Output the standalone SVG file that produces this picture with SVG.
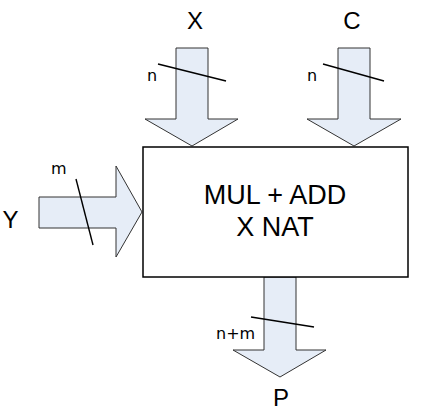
<svg xmlns="http://www.w3.org/2000/svg" width="422" height="414" viewBox="0 0 422 414">
<style>
.arrow{fill:#E6EDF7;stroke:#333;stroke-width:1}
.tick{stroke:#000;stroke-width:1.4;fill:none}
.big{font-family:"Liberation Sans",Arial,sans-serif;font-size:24px;fill:#000;text-anchor:middle}
.box{font-family:"Liberation Sans",Arial,sans-serif;font-size:27px;fill:#000;text-anchor:middle}
.small{font-family:"DejaVu Sans",sans-serif;font-size:16px;fill:#000}
</style>
<rect width="422" height="414" fill="#fff"/>
<g id="connectors">
<g id="arrow-x">
<polygon class="arrow" points="176,48 208,48 208,119 238,119 192,146 145,119 176,119"/>
<line class="tick" x1="158" y1="64" x2="226" y2="81"/>
</g>
<g id="arrow-c">
<polygon class="arrow" points="338,48 370,48 370,119 401,119 354,146 307,119 338,119"/>
<line class="tick" x1="323" y1="64" x2="384" y2="81"/>
</g>
<g id="arrow-y">
<polygon class="arrow" points="39,197 116,197 116,166 142,212 116,257 116,228 39,228"/>
<line class="tick" x1="76" y1="179" x2="93" y2="245"/>
</g>
<g id="arrow-p">
<polygon class="arrow" points="264,277 296,277 296,350 326,350 280,377 233,350 264,350"/>
<line class="tick" x1="251" y1="317" x2="314" y2="327"/>
</g>
</g>
<g id="node-muladd">
<rect x="143" y="147" width="265" height="130" fill="#fff" stroke="#000" stroke-width="1.5"/>
<text class="box" x="275" y="204">MUL + ADD</text>
<text class="box" x="275" y="236">X NAT</text>
</g>
<g id="labels">
<text class="big" x="195" y="29">X</text>
<text class="big" x="352" y="29">C</text>
<text class="big" x="10.5" y="228">Y</text>
<text class="big" x="281" y="406">P</text>
<text class="small" x="147" y="81">n</text>
<text class="small" x="307" y="81">n</text>
<text class="small" x="51" y="174">m</text>
<text class="small" x="216" y="339">n+m</text>
</g>
</svg>
